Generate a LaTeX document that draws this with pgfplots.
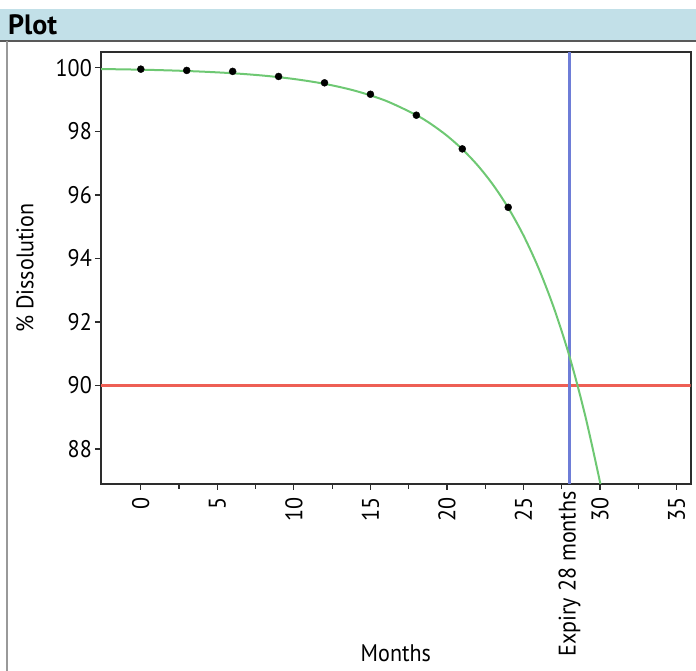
\documentclass[border=0pt]{standalone}
\usepackage{fontspec}
\setmainfont{PT Sans}[FakeStretch=0.92]
\newfontfamily\headfont{PT Sans}
\usepackage{pgfplots}
\pgfplotsset{compat=1.18}
\definecolor{hdr}{RGB}{194,224,232}
\definecolor{fitgreen}{RGB}{110,200,115}
\definecolor{limred}{RGB}{238,95,85}
\definecolor{expblue}{RGB}{110,125,215}
\definecolor{axgray}{RGB}{45,45,45}
\begin{document}
\fontsize{24}{28}\selectfont
\begin{tikzpicture}[x=1pt,y=1pt]
\path[use as bounding box] (0,0) rectangle (696,671);
\fill[hdr] (0,630) rectangle (696,662);
\draw[gray!70!black, line width=2pt] (0,630) -- (696,630);
\draw[gray!80, line width=1.5pt] (7,630) -- (7,0);
\node[anchor=base west, inner sep=0pt, font=\headfont\fontsize{28}{30}\selectfont\bfseries] at (8,636) {Plot};
\begin{axis}[
  at={(101pt,187pt)}, anchor=south west,
  scale only axis, width=589.7pt, height=432pt,
  xmin=-2.6, xmax=35.92, ymin=86.9, ymax=100.5,
  axis line style={axgray, line width=1.6pt},
  tick style={axgray, line width=1.2pt},
  xtick={0,5,...,35}, minor x tick num=1,
  ytick={88,90,...,100},
  tick align=outside, xtick pos=left, ytick pos=left,
  major tick length=6pt, minor tick length=5pt,
  /pgf/number format/assume math mode=true,
  xticklabel style={rotate=90, anchor=east, inner sep=0pt},
  xticklabel shift=7pt,
  yticklabel style={inner sep=0pt},
  yticklabel shift=3pt,
  extra x ticks={28},
  extra x tick labels={Expiry 28 months},
  extra x tick style={major tick length=0pt, grid=none},
  xlabel={Months},
  ylabel={\% Dissolution},
  x label style={at={(axis description cs:0.5,-0.412)}, anchor=base},
  y label style={at={(axis description cs:-0.129,0.5)}, anchor=center},
  clip=true,
]
\addplot[draw=limred, no marks, line width=2.2pt, sharp plot] table {
x y
-2.6 90
35.92 90
};
\addplot[draw=expblue, no marks, line width=2.2pt, sharp plot] table {
x y
28 86.9
28 100.5
};
\addplot[draw=fitgreen, no marks, line width=2pt, smooth] coordinates {
(-2.6,99.964) (0,99.943) (2,99.918) (4,99.882) (6,99.831) (8,99.757)
(10,99.650) (12,99.498) (14,99.279) (16,98.965) (18,98.513) (19,98.218)
(20,97.864) (21,97.440) (22,96.933) (23,96.325) (24,95.596) (25,94.722)
(26,93.675) (27,92.420) (28,90.920) (29,89.110) (30,86.950) (30.5,85.720)
};
\addplot[only marks, mark=*, mark size=3.5pt, black] coordinates {
(0,99.96) (3,99.92) (6,99.89) (9,99.73) (12,99.53) (15,99.17) (18,98.51) (21,97.45) (24,95.61)
};
\end{axis}
\end{tikzpicture}
\end{document}
